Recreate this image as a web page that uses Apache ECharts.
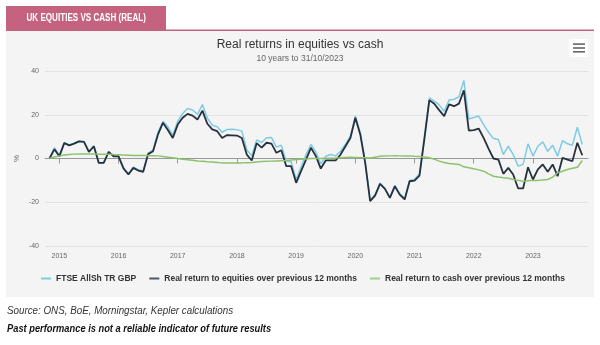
<!DOCTYPE html>
<html><head><meta charset="utf-8">
<script src="https://cdn.jsdelivr.net/npm/echarts@6/dist/echarts.min.js"></script>
<style>html,body{margin:0;padding:0;background:#fff}#c{width:600px;height:345px}</style>
</head><body><div id="c"></div>
<script>
// Monthly observations, first = 31 Oct 2014, last = 31 Oct 2023
const startYear = 2014;
const startMonth = 10; // October (month-end)
const yearTicks = [2015, 2016, 2017, 2018, 2019, 2020, 2021, 2022, 2023];
const seriesNames = ['FTSE AllSh TR GBP', 'Real return to equities over previous 12 months', 'Real return to cash over previous 12 months'];

const ftse = [
  0, 5, 1.5, 7.3, 6.2, 7, 7.9, 7.7, 3.1, 5.7, -1.9, -1.9,
  3, 1.1, 1.2, -4.2, -7, -4, -5.1, -5.6, 2.5, 3.9, 12, 17,
  14.5, 10.7, 17, 20.6, 22.9, 22.2, 20.2, 24.7, 18.5, 15.2, 14.5, 12,
  13.3, 13.4, 13.2, 12.5, 4, 1.2, 8.5, 7.3, 9.5, 9.6, 5.2, 6.1,
  -1.2, -1.5, -9.6, -3.8, 1.8, 6.4, 3, -2.4, 1, 1.8, 1.2, 3.3,
  6.6, 10.2, 19.4, 11.8, -1.4, -19, -16.5, -11.2, -13.6, -17.6, -12.3, -16,
  -18.2, -10, -9.5, -7, 10, 27.7, 26.2, 24.5, 21.6, 26.7, 27.1, 28.2,
  35.7, 18.1, 18.7, 19.4, 15.5, 12, 9.1, 8.7, 1.8, 5.6, 1.8, -3.5,
  -2.7, 6.7, 1.1, 5.6, 7.6, 3.3, 6.1, 1.1, 8.2, 6.7, 6.1, 14.3,
  6.4
];
const equities = [
  0, 4.2, 1, 7, 6, 6.8, 7.8, 7.6, 3, 5.6, -2, -2,
  3, 1, 1, -4.5, -7.3, -4.3, -5.5, -6.1, 2, 3.3, 11, 16.3,
  13, 9.4, 15.5, 18.6, 20.4, 19.6, 17.8, 21.9, 15.9, 13.3, 12.5, 9.4,
  10.7, 10.6, 10.5, 9.4, 1.8, -0.9, 7, 5, 7.2, 6.8, 2.6, 3.8,
  -3.5, -3.5, -11.1, -5.8, -0.5, 4.9, 1.1, -4.6, -0.9, -0.9, -0.9, 1.8,
  5.6, 9.4, 18.6, 11, -2, -19.5, -17, -11.6, -13.9, -18, -12.7, -16.5,
  -18.7, -10.4, -10.1, -7.8, 9, 26.7, 25, 22.1, 19.4, 24.7, 23.9, 25.1,
  31.2, 12.8, 13, 13.7, 9.4, 4.5, 0, -0.5, -7, -4.3, -7.3, -13.7,
  -13.7, -4, -9.6, -5, -2.7, -6.1, -2.7, -8.1, 0.3, -0.5, -1.2, 7.2,
  1.5
];
const cash = [
  0, 0.7, 1.2, 1.6, 1.8, 2, 2.1, 2.1, 2.1, 2.1, 2, 2,
  2, 1.8, 1.7, 1.6, 1.5, 1.4, 1.4, 1.4, 1.4, 1.3, 1.2, 0.9,
  0.6, 0.3, 0, -0.4, -0.6, -0.8, -1.1, -1.3, -1.5, -1.6, -1.8, -2,
  -2, -2, -2, -2, -1.9, -1.8, -1.6, -1.4, -1.3, -1.2, -1.1, -1,
  -0.9, -0.7, -0.5, -0.4, -0.2, 0, 0, 0, 0.1, 0.1, 0.2, 0.4,
  0.5, 0.6, 0.5, 0.4, 0.3, 0.2, 0.6, 1, 1.1, 1.2, 1.3, 1.2,
  1.1, 1.2, 1, 0.9, 0.7, 0.3, -0.3, -1.2, -1.8, -2.3, -2.5, -2.7,
  -3.8, -4.2, -4.7, -5.2, -5.8, -7, -8.1, -8.5, -8.8, -9, -9.6, -10,
  -10.4, -10.2, -10, -10, -9.8, -9.6, -8.5, -6.5, -5.8, -5, -4.5, -4,
  -0.9
];

function monthX(i) { return startYear + (startMonth + i) / 12; }
function toPairs(arr) { return arr.map((v, i) => [monthX(i), v]); }

const PINK = '#c4627f';
const chart = echarts.init(document.getElementById('c'), null, { renderer: 'canvas' });
chart.setOption({
  animation: false,
  backgroundColor: '#ffffff',
  textStyle: { fontFamily: '"Liberation Sans", Arial, sans-serif' },
  title: {
    text: 'Real returns in equities vs cash',
    subtext: '10 years to 31/10/2023',
    left: 'center', top: 38, padding: 0, itemGap: 2,
    textStyle: { fontSize: 12, fontWeight: 'normal', color: '#333', lineHeight: 14 },
    subtextStyle: { fontSize: 8.5, color: '#666', lineHeight: 10 }
  },
  grid: { left: 45, right: 12, top: 71, bottom: 99, containLabel: false },
  legend: {
    data: seriesNames,
    left: 36, top: 269,
    icon: 'rect', itemWidth: 10, itemHeight: 2, itemGap: 13,
    textStyle: { fontSize: 8.5, fontWeight: 'bold', color: '#333' }
  },
  xAxis: {
    type: 'value', min: 2014.758, max: 2023.93,
    axisLine: { show: true, lineStyle: { color: '#999', width: 1 } },
    axisTick: { show: true, customValues: yearTicks, length: 5, lineStyle: { color: '#999' } },
    axisLabel: { customValues: yearTicks, formatter: v => String(Math.round(v)), fontSize: 7, color: '#666', margin: 7 },
    splitLine: { show: false }
  },
  yAxis: {
    type: 'value', min: -40, max: 40, interval: 20,
    name: '%', nameLocation: 'middle', nameRotate: 90, nameGap: 24, nameMoveOverlap: false,
    nameTextStyle: { fontSize: 8, color: '#666' },
    axisLine: { show: false }, axisTick: { show: false },
    axisLabel: { fontSize: 7, color: '#666', margin: 6 },
    splitLine: { lineStyle: { color: '#e2e2e2', width: 1 } }
  },
  series: [
    { name: seriesNames[0], type: 'line', data: toPairs(ftse), showSymbol: false, lineStyle: { color: '#7fcbe5', width: 1.5 }, itemStyle: { color: '#7fcbe5' }, z: 2 },
    { name: seriesNames[1], type: 'line', data: toPairs(equities), showSymbol: false, lineStyle: { color: '#26313d', width: 1.8 }, itemStyle: { color: '#4a5866' }, z: 3 },
    { name: seriesNames[2], type: 'line', data: toPairs(cash), showSymbol: false, lineStyle: { color: '#8cc26c', width: 1.5 }, itemStyle: { color: '#9fd08a' }, z: 4 }
  ],
  graphic: [
    { type: 'rect', silent: true, z: -100, shape: { x: 6, y: 31, width: 588, height: 266 }, style: { fill: '#f4f4f4' } },
    { type: 'rect', silent: true, z: -90, shape: { x: 6, y: 29.5, width: 588, height: 1.5 }, style: { fill: PINK } },
    { type: 'rect', silent: true, z: -90, shape: { x: 6, y: 6, width: 160, height: 25 }, style: { fill: PINK } },
    { type: 'text', silent: true, x: 26.5, y: 18.5, scaleX: 0.77,
      style: { text: 'UK EQUITIES VS CASH (REAL)', fill: '#ffffff', font: 'bold 10.5px "Liberation Sans", Arial, sans-serif', textAlign: 'left', textVerticalAlign: 'middle' } },
    { type: 'rect', silent: true, shape: { x: 569, y: 39, width: 19, height: 18, r: 2 }, style: { fill: '#ffffff' } },
    { type: 'rect', silent: true, shape: { x: 573, y: 43.3, width: 12, height: 1.6 }, style: { fill: '#666' } },
    { type: 'rect', silent: true, shape: { x: 573, y: 47.2, width: 12, height: 1.6 }, style: { fill: '#666' } },
    { type: 'rect', silent: true, shape: { x: 573, y: 51, width: 12, height: 1.6 }, style: { fill: '#666' } },
    { type: 'text', silent: true, x: 7, y: 311.5, scaleX: 0.98,
      style: { text: 'Source: ONS, BoE, Morningstar, Kepler calculations', fill: '#333', font: 'italic 10px "Liberation Sans", Arial, sans-serif', textVerticalAlign: 'middle' } },
    { type: 'text', silent: true, x: 7, y: 329, scaleX: 0.93,
      style: { text: 'Past performance is not a reliable indicator of future results', fill: '#111', font: 'italic bold 10px "Liberation Sans", Arial, sans-serif', textVerticalAlign: 'middle' } }
  ]
});
</script>
</body></html>
